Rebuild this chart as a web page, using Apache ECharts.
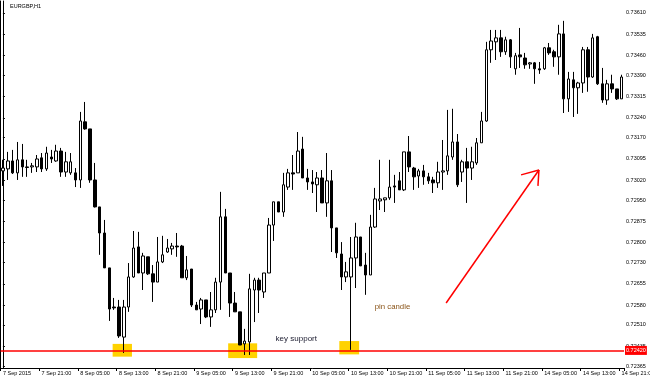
<!DOCTYPE html>
<html><head><meta charset="utf-8">
<script src="https://cdn.jsdelivr.net/npm/echarts@6/dist/echarts.min.js"></script>
<style>html,body{margin:0;padding:0;background:#fff}#c{width:650px;height:378px}</style>
</head><body><div id="c"></div>
<script>
const chartTitle = 'EURGBP,H1';
const sessionDays = [['7 Sep',13,23],['8 Sep',0,23],['9 Sep',0,23],['10 Sep',0,23],['11 Sep',0,23],['14 Sep',0,21]];
const categories = [];
sessionDays.forEach(([d,h0,h1])=>{for(let h=h0;h<=h1;h++) categories.push(d+' '+String(h).padStart(2,'0')+':00');});
const tickLabels = ['7 Sep 2015','7 Sep 21:00','8 Sep 05:00','8 Sep 13:00','8 Sep 21:00','9 Sep 05:00','9 Sep 13:00','9 Sep 21:00','10 Sep 05:00','10 Sep 13:00','10 Sep 21:00','11 Sep 05:00','11 Sep 13:00','11 Sep 21:00','14 Sep 05:00','14 Sep 13:00','14 Sep 21:00'];
const priceTicks = [0.73610,0.73535,0.73460,0.73390,0.73315,0.73240,0.73170,0.73095,0.73020,0.72950,0.72875,0.72800,0.72730,0.72655,0.72580,0.72510,0.72435,0.72365];

const opens = [0.73053,0.73060,0.73088,0.73046,0.73092,0.73067,0.73067,0.73067,0.73099,0.73060,
0.73102,0.73088,0.73123,0.73049,0.73046,0.73046,0.73021,0.73226,0.73201,0.73021,
0.72926,0.72834,0.72711,0.72573,0.72573,0.72467,0.72573,0.72679,0.72785,0.72693,
0.72750,0.72690,0.72661,0.72732,0.72767,0.72778,0.72788,0.72788,0.72676,0.72707,
0.72580,0.72566,0.72598,0.72538,0.72563,0.72661,0.72891,0.72693,0.72587,0.72556,
0.72443,0.72450,0.72633,0.72668,0.72626,0.72693,0.72862,0.72944,0.72908,0.72996,
0.73046,0.73046,0.73130,0.73028,0.73014,0.73004,0.73028,0.72940,0.73018,0.72852,
0.72760,0.72679,0.72679,0.72746,0.72820,0.72721,0.72686,0.72855,0.72947,0.72951,
0.72958,0.73000,0.73018,0.72986,0.73120,0.73063,0.73035,0.73053,0.73032,0.73021,
0.73011,0.73049,0.73053,0.73102,0.73155,0.73049,0.73085,0.73063,0.73081,0.73152,
0.73229,0.73480,0.73508,0.73522,0.73473,0.73515,0.73413,0.73462,0.73451,0.73430,
0.73434,0.73413,0.73413,0.73487,0.73473,0.73455,0.73536,0.73307,0.73374,0.73346,
0.73363,0.73480,0.73384,0.73526,0.73360,0.73303,0.73360,0.73342,0.73307];
const closes = [0.73063,0.73088,0.73046,0.73092,0.73067,0.73065,0.73071,0.73095,0.73060,0.73116,
0.73095,0.73123,0.73049,0.73085,0.73085,0.73021,0.73229,0.73201,0.73021,0.72926,
0.72834,0.72711,0.72566,0.72570,0.72471,0.72573,0.72679,0.72781,0.72693,0.72753,
0.72690,0.72661,0.72732,0.72757,0.72781,0.72788,0.72785,0.72676,0.72704,0.72580,
0.72563,0.72598,0.72538,0.72563,0.72661,0.72891,0.72693,0.72587,0.72556,0.72439,
0.72453,0.72637,0.72668,0.72633,0.72693,0.72862,0.72944,0.72908,0.73004,0.73046,
0.73042,0.73123,0.73028,0.73014,0.73007,0.73028,0.72940,0.73018,0.72852,0.72764,
0.72679,0.72697,0.72746,0.72820,0.72718,0.72686,0.72855,0.72954,0.72954,0.72958,
0.72996,0.72996,0.72986,0.73120,0.73067,0.73032,0.73053,0.73032,0.73018,0.73011,
0.73049,0.73053,0.73106,0.73155,0.73004,0.73085,0.73063,0.73085,0.73152,0.73229,
0.73480,0.73511,0.73522,0.73473,0.73515,0.73455,0.73459,0.73455,0.73427,0.73434,
0.73413,0.73409,0.73487,0.73469,0.73455,0.73536,0.73307,0.73377,0.73346,0.73363,
0.73480,0.73384,0.73522,0.73360,0.73303,0.73360,0.73342,0.73307,0.73384];
const lows = [0.73000,0.73021,0.73042,0.73021,0.73032,0.73032,0.73046,0.73049,0.73049,0.73053,
0.73081,0.73085,0.73032,0.73032,0.73039,0.72996,0.72993,0.73198,0.73011,0.72924,
0.72757,0.72711,0.72524,0.72563,0.72464,0.72411,0.72556,0.72676,0.72693,0.72633,
0.72686,0.72591,0.72661,0.72728,0.72764,0.72757,0.72750,0.72676,0.72668,0.72573,
0.72563,0.72513,0.72534,0.72503,0.72552,0.72563,0.72693,0.72538,0.72556,0.72439,
0.72404,0.72404,0.72520,0.72552,0.72605,0.72693,0.72806,0.72908,0.72891,0.72986,
0.72986,0.73046,0.73028,0.72986,0.72975,0.72908,0.72940,0.72891,0.72767,0.72746,
0.72633,0.72661,0.72422,0.72640,0.72718,0.72616,0.72686,0.72852,0.72915,0.72908,
0.72951,0.72940,0.72986,0.72982,0.73049,0.72986,0.72993,0.73004,0.73007,0.72975,
0.72993,0.72986,0.73039,0.73092,0.72996,0.73014,0.72940,0.73021,0.73074,0.73152,
0.73226,0.73434,0.73444,0.73455,0.73462,0.73416,0.73392,0.73416,0.73413,0.73413,
0.73360,0.73395,0.73409,0.73462,0.73420,0.73392,0.73257,0.73261,0.73243,0.73254,
0.73328,0.73332,0.73381,0.73356,0.73293,0.73286,0.73328,0.73303,0.73307];
const highs = [0.73092,0.73120,0.73127,0.73155,0.73148,0.73092,0.73081,0.73109,0.73116,0.73138,
0.73127,0.73145,0.73134,0.73120,0.73116,0.73063,0.73261,0.73296,0.73201,0.73081,
0.72926,0.72880,0.72711,0.72605,0.72598,0.72598,0.72728,0.72841,0.72838,0.72764,
0.72750,0.72721,0.72820,0.72824,0.72813,0.72799,0.72834,0.72792,0.72753,0.72707,
0.72591,0.72605,0.72598,0.72626,0.72676,0.72979,0.72919,0.72693,0.72626,0.72556,
0.72496,0.72690,0.72676,0.72676,0.72693,0.72887,0.72944,0.72944,0.73046,0.73060,
0.73109,0.73190,0.73173,0.73060,0.73056,0.73049,0.73056,0.73116,0.73056,0.72852,
0.72802,0.72732,0.72820,0.72870,0.72820,0.72764,0.72898,0.72993,0.73092,0.72958,
0.73092,0.73039,0.73049,0.73120,0.73176,0.73067,0.73060,0.73074,0.73046,0.73032,
0.73085,0.73162,0.73268,0.73272,0.73183,0.73092,0.73134,0.73138,0.73169,0.73261,
0.73508,0.73550,0.73550,0.73550,0.73526,0.73518,0.73469,0.73557,0.73469,0.73437,
0.73437,0.73437,0.73490,0.73504,0.73480,0.73568,0.73582,0.73402,0.73402,0.73367,
0.73490,0.73490,0.73536,0.73529,0.73416,0.73374,0.73392,0.73342,0.73392];

const supportLevel = 0.72420;
const supportZones = [[22.7,26.7,0.72443,0.72398],[46.6,52.6,0.72445,0.72393],[69.6,73.7,0.72453,0.72406]];
const arrowStart = [91.7,0.72587], arrowTip = [110.9,0.73056];
const arrowBarbs = [[107.2,0.73039],[110.7,0.73000]];
const notes = [{name:'key support', at:[60.7,0.72461], color:'#1a1a2e', size:8},{name:'pin candle', at:[80.6,0.72573], color:'#8a5418', size:7.8}];

const FF = 'Liberation Sans';
const FS = 5.5;
const chart = echarts.init(document.getElementById('c'), null, {renderer:'canvas'});
const candles = categories.map((_, i) => [opens[i], closes[i], lows[i], highs[i]]);
const showIdx = (i) => i % 8 === 0;
const red = '#ff0000';
const xMin = -0.5, xMax = categories.length - 0.5;

chart.setOption({
  animation: false,
  backgroundColor: '#ffffff',
  title: {text: chartTitle, left: 10, top: 3, padding: 0,
    textStyle: {fontSize: FS, fontWeight: 'normal', color: '#000', fontFamily: FF}},
  grid: {left: 0.5, right: 26, top: 1, bottom: 10, containLabel: false, outerBoundsMode: 'none'},
  xAxis: [{
    type: 'category', data: categories, boundaryGap: true,
    axisLine: {show: true, lineStyle: {color: '#000', width: 1}},
    axisTick: {show: true, interval: showIdx, length: 3, lineStyle: {color: '#000'}},
    axisLabel: {show: true, interval: showIdx, align: 'left', margin: 2, fontSize: FS, color: '#000', fontFamily: FF,
      hideOverlap: false, formatter: (v, i) => tickLabels[i / 8]},
    splitLine: {show: false}
  }, {
    type: 'value', min: xMin, max: xMax, show: false
  }],
  yAxis: [{
    type: 'value', position: 'right', min: 0.72358, max: 0.73652,
    axisLine: {show: true, lineStyle: {color: '#000', width: 1}},
    axisTick: {show: true, customValues: priceTicks, length: 2, lineStyle: {color: '#000'}},
    axisLabel: {show: true, customValues: priceTicks, margin: 2, fontSize: FS, color: '#000', fontFamily: FF,
      formatter: (v) => v.toFixed(5)},
    splitLine: {show: false}
  }, {
    type: 'value', position: 'left', min: 0.72358, max: 0.73652,
    axisLine: {show: true, lineStyle: {color: '#000', width: 1}},
    axisTick: {show: false}, axisLabel: {show: false}, splitLine: {show: false}
  }],
  series: [{
    type: 'line', xAxisIndex: 1, yAxisIndex: 0, data: [], z: 1, silent: true,
    markArea: {silent: true, itemStyle: {color: '#ffd200', opacity: 1},
      data: supportZones.map(z => [{coord: [z[0], z[2]]}, {coord: [z[1], z[3]]}])}
  }, {
    type: 'candlestick', xAxisIndex: 0, yAxisIndex: 0, data: candles, z: 2, barWidth: 3,
    itemStyle: {color: '#ffffff', color0: '#000000', borderColor: '#000000', borderColor0: '#000000', borderWidth: 1}
  }, {
    type: 'line', xAxisIndex: 1, yAxisIndex: 0, data: [], z: 3, silent: true,
    markLine: {silent: true, symbol: ['none', 'none'], animation: false,
      lineStyle: {color: red, width: 1.5, type: 'solid'},
      label: {show: false},
      data: [
        [{coord: [xMin, supportLevel], lineStyle: {color: red, width: 1.5},
          label: {show: true, position: 'end', distance: 1, formatter: supportLevel.toFixed(5),
            backgroundColor: red, color: '#fff', fontSize: FS, fontFamily: FF, padding: [2, 1, 1, 1]}},
         {coord: [xMax, supportLevel]}],
        [{coord: arrowStart}, {coord: arrowTip}],
        [{coord: arrowTip}, {coord: arrowBarbs[0]}],
        [{coord: arrowTip}, {coord: arrowBarbs[1]}]
      ]},
    markPoint: {silent: true, symbol: 'circle', symbolSize: 1, itemStyle: {color: 'rgba(0,0,0,0)'},
      data: notes.map(n => ({name: n.name, coord: n.at,
        label: {show: true, position: 'inside', formatter: n.name, color: n.color, fontSize: n.size, fontFamily: FF}}))}
  }]
});
</script></body></html>
